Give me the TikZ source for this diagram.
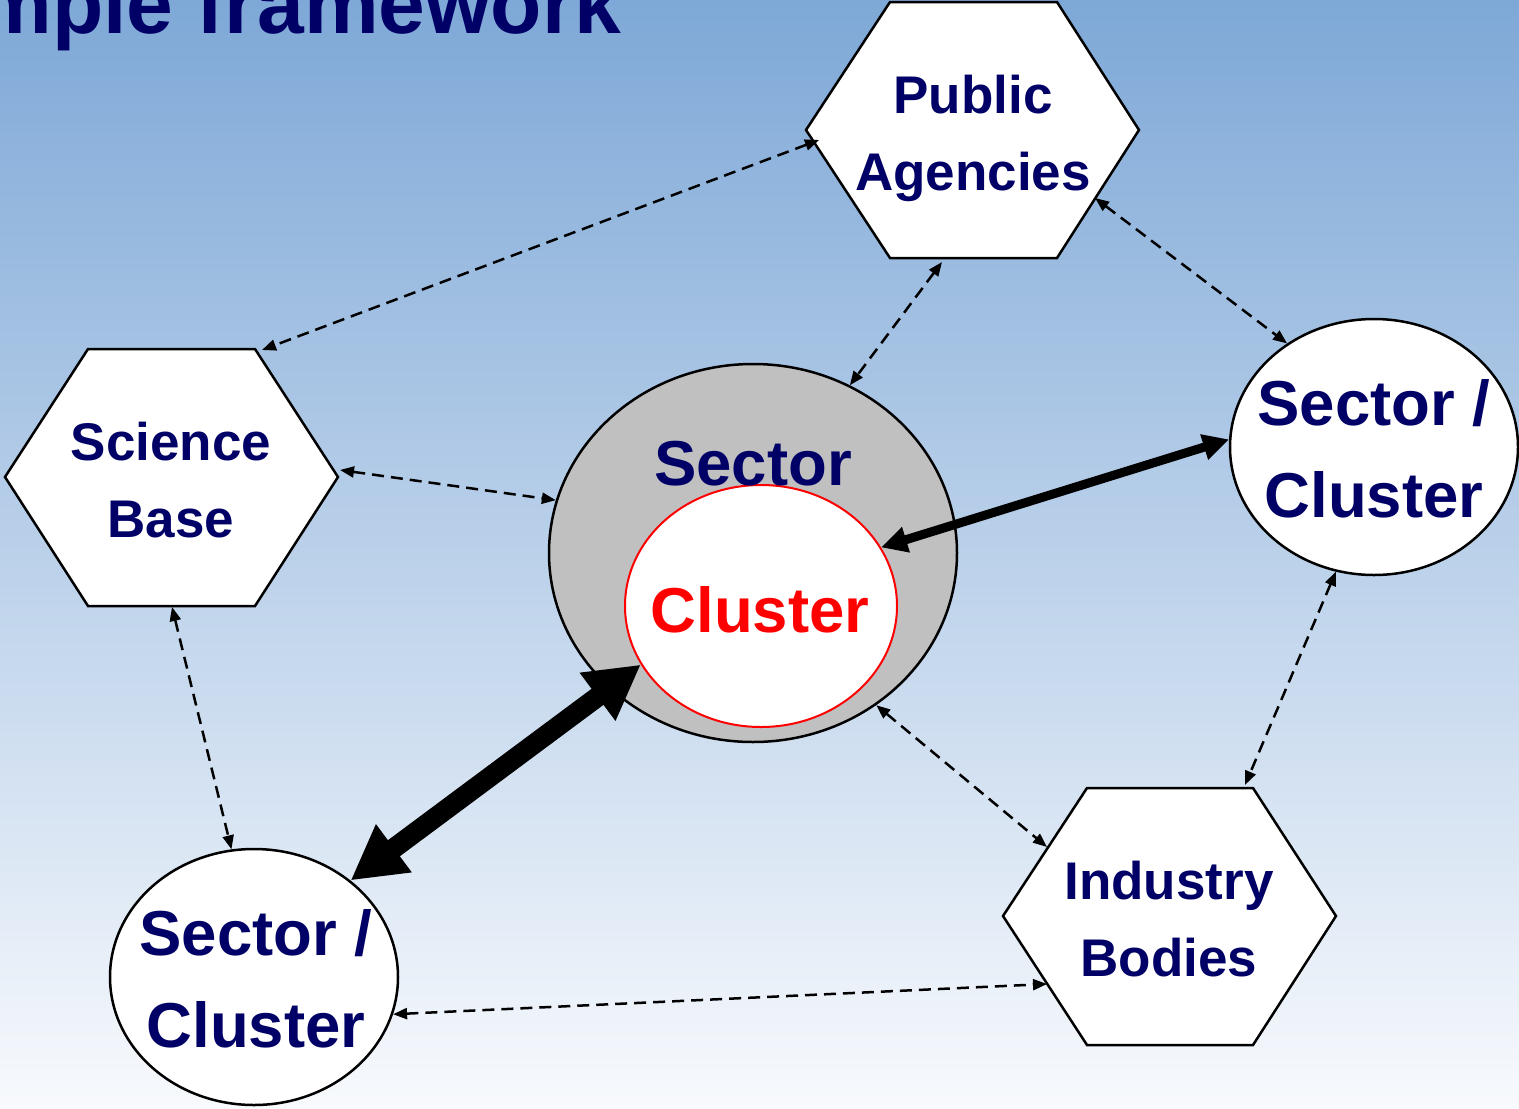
\documentclass[tikz,border=0pt]{standalone}
\usepackage{fontspec}
\setmainfont{Liberation Sans}
\usetikzlibrary{arrows.meta,shapes.geometric}
\definecolor{navy}{RGB}{0,0,102}
\definecolor{bgtop}{RGB}{126,168,215}
\definecolor{bgbot}{RGB}{248,250,253}
\definecolor{secgray}{RGB}{192,192,192}
\begin{document}
\begin{tikzpicture}[x=1pt,y=-1pt,
  hexline/.style={draw=black,line width=2.5pt,fill=white,line join=miter},
  ell/.style={ellipse,draw=black,line width=2.5pt,fill=white,inner sep=0pt},
  lbl/.style={text=navy,font=\bfseries\fontsize{53}{77}\selectfont,align=center,inner sep=0pt},
  biglbl/.style={text=navy,font=\bfseries\fontsize{63.5}{92}\selectfont,align=center,inner sep=0pt},
  dasharrow/.style={dash pattern=on 12pt off 7pt,line width=2.5pt,
    {Triangle[length=14pt,width=11pt]}-{Triangle[length=14pt,width=11pt]}},
  thickA/.style={line width=9pt,{Triangle[length=26pt,width=25pt]}-{Triangle[length=26pt,width=25pt]}},
  thickB/.style={line width=20pt,{Triangle[length=54pt,width=56pt]}-{Triangle[length=54pt,width=56pt]}}
]
\useasboundingbox (0,0) rectangle (1519,1109);
\begin{scope}
\clip (0,0) rectangle (1519,1109);
\shade[top color=bgtop,bottom color=bgbot] (0,0) rectangle (1519,1109);
\node[anchor=base east,text=navy,font=\bfseries\fontsize{84}{96}\selectfont,inner sep=0pt] (title) at (622,33) {Simple framework};

% hexagons
\draw[hexline] (890,2) -- (1057,2) -- (1139,130) -- (1057,258) -- (890,258) -- (806,130) -- cycle;
\draw[hexline] (88,349) -- (255,349) -- (338,477) -- (255,606) -- (88,606) -- (5,477) -- cycle;
\draw[hexline] (1087,788) -- (1253,788) -- (1336,916) -- (1253,1045) -- (1087,1045) -- (1003,916) -- cycle;

% ellipses
\node[ell,fill=secgray,minimum width=408pt,minimum height=378pt] (sec) at (753,553) {};
\node[ellipse,draw=red,line width=2pt,fill=white,inner sep=0pt,minimum width=272pt,minimum height=242pt] (clu) at (761,606) {};
\node[ell,minimum width=288pt,minimum height=256pt] (rc) at (1374,447) {};
\node[ell,minimum width=288pt,minimum height=256pt] (blc) at (254,977) {};

% labels
\node[lbl] (pa) at (973,138) {Public\\Agencies};
\node[lbl] (sb) at (171,480) {Science\\Base};
\node[lbl] (ib) at (1169,919) {Industry\\Bodies};
\node[biglbl,anchor=base] (sectxt) at (753,485) {Sector};
\node[anchor=base,text=red,font=\bfseries\fontsize{63.5}{92}\selectfont,inner sep=0pt] (clutxt) at (760,632) {Cluster};
\node[biglbl] (rctxt) at (1374,449) {Sector /\\Cluster};
\node[biglbl] (blctxt) at (256,979) {Sector /\\Cluster};

% connection points on hexagons
\coordinate (pa-l) at (819,140);
\coordinate (pa-b) at (942,262);
\coordinate (pa-r) at (1095,198);
\coordinate (sb-t) at (262,350);
\coordinate (sb-r) at (340,470);
\coordinate (sb-b) at (172,607);
\coordinate (ib-t) at (1245,785);
\coordinate (ib-l1) at (1047,847);
\coordinate (ib-l2) at (1047,984);

% dashed connectors
\draw[dasharrow] (pa-l) -- (sb-t);
\draw[dasharrow] (pa-b) -- (sec.60);
\draw[dasharrow] (pa-r) -- (rc.130);
\draw[dasharrow] (sb-r) -- (sec.165);
\draw[dasharrow] (sb-b) -- (blc.100);
\draw[dasharrow] (rc.-107) -- (ib-t);
\draw[dasharrow] (sec.-51) -- (ib-l1);
\draw[dasharrow] (blc.-15) -- (ib-l2);

% thick connectors
\draw[thickA] (clu.26) -- (rc.177);
\draw[thickB] (blc.45) -- (clu.206.7);
\end{scope}
\end{tikzpicture}
\end{document}
